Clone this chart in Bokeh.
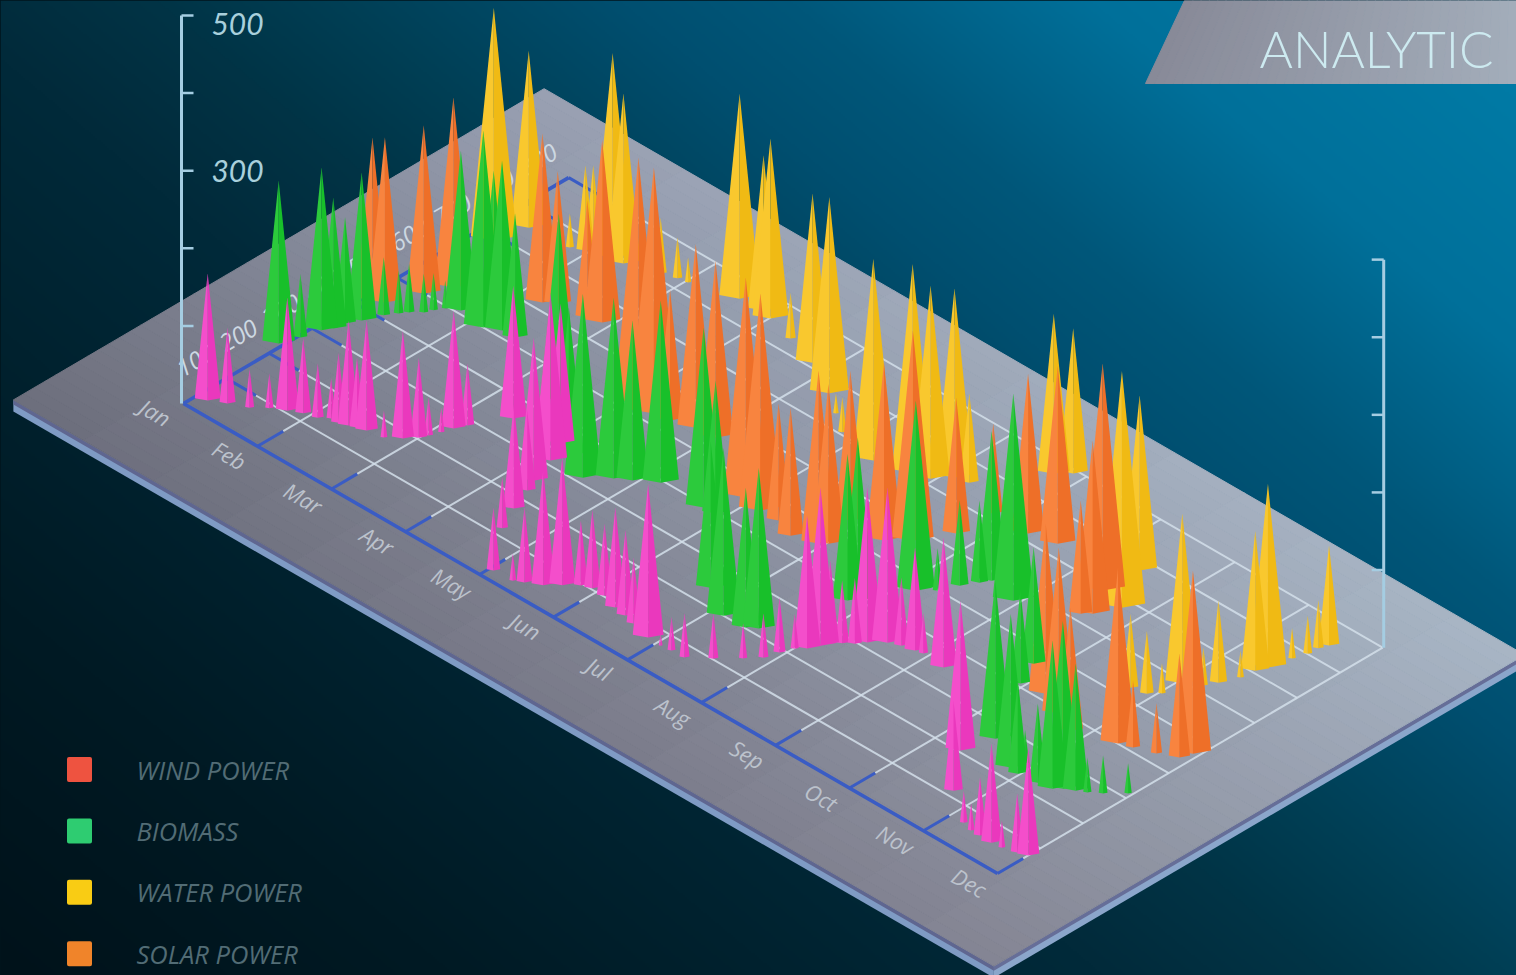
from bokeh.plotting import figure
from bokeh.models import Range1d
from bokeh.core.properties import value
from bokeh.embed import file_html
from bokeh.resources import INLINE
import numpy as np

# ---------- data ----------
MONTHS = ["Jan", "Feb", "Mar", "Apr", "May", "Jun", "Jul", "Aug", "Sep", "Oct", "Nov", "Dec"]
DEPTH_LABELS = ["100", "200", "300", "400", "500", "600", "700", "800", "900"]
VALUE_TICKS = [100, 200, 300, 400, 500]
VALUE_LABELS = ["300", "500"]
LEGEND = ["WIND POWER", "BIOMASS", "WATER POWER", "SOLAR POWER"]
LEGEND_COLORS = ["#ee5340", "#2ecc71", "#f9cc14", "#f0842a"]

pink_m = [.13,.30,.50,.64,.79,.93,1.08,1.18,1.28,1.38,1.46,1.56,1.76,1.90,2.00,2.04,2.09,2.13,2.19,2.42,
          3.28,3.16,3.03,3.47,3.35,4.05,3.62,4.30,4.40,4.56,4.69,4.82,4.93,5.10,5.31,5.47,5.62,5.88,6.06,6.19,
          6.36,6.57,6.77,6.90,6.95,7.01,7.09,7.15,7.19,7.27,7.36,7.43,7.57,7.70,7.85,7.94,8.24,9.32,9.74,10.18,
          10.32,10.44,10.60,10.73,10.89,11.00]
pink_d = [.34,.51,.68,.90,1.06,1.19,1.27,1.41,1.41,1.47,1.53,1.58,1.64,1.84,2.04,2.20,2.41,2.63,2.85,3.52,
          2.51,3.11,3.57,1.72,2.24,.24,1.19,.26,.36,.52,.74,.95,1.03,1.02,.91,.87,.80,.69,.67,.70,
          .71,1.02,1.37,1.62,1.91,2.16,2.31,2.52,2.68,2.82,2.96,3.13,3.36,3.46,3.52,3.56,3.51,2.04,1.15,.63,
          .56,.56,.55,.57,.65,.72]
pink_v = [164,98,50,45,146,97,70,52,90,135,90,142,35,139,103,49,32,152,80,171,
          184,215,180,135,103,81,66,35,97,148,165,84,101,93,129,110,85,198,15,43,
          57,58,45,57,71,45,171,204,107,81,85,200,200,88,133,52,168,193,116,41,
          35,75,128,35,76,139]

green_m = [-.05,.03,.09,.15,.17,.25,.34,.42,.48,.58,.62,.68,.81,1.16,1.23,1.32,1.49,2.52,3.23,3.58,
           3.80,3.95,4.17,4.75,4.90,5.73,6.14,6.43,6.53,6.81,6.88,7.16,7.31,7.40,7.50,7.56,7.94,8.81,8.95,9.42,
           9.86,9.98,9.91,10.22,10.39,10.46,10.57,10.67,10.79,10.96]
green_d = [2.31,2.68,3.07,3.24,3.48,3.73,4.09,4.30,4.44,4.61,4.77,4.94,5.08,5.00,5.12,5.16,5.17,4.41,3.42,3.14,
           3.48,3.66,3.94,3.94,3.96,2.41,2.00,2.02,2.15,3.74,3.86,4.73,4.98,5.34,5.63,5.81,5.66,4.63,4.08,2.68,
           2.28,2.24,2.53,2.29,2.34,2.46,2.57,2.67,2.83,3.12]
green_v = [210,82,210,169,137,191,75,55,63,50,48,36,206,254,202,219,160,241,191,237,
           233,206,235,232,171,189,216,180,207,189,210,245,55,110,106,193,267,150,120,204,
           198,120,43,102,191,216,164,45,49,39]

orange_m = [.09,.20,.36,.49,1.27,1.39,1.75,1.91,3.10,3.32,3.51,3.77,4.02,4.92,5.17,5.41,5.67,5.95,6.02,5.90,
            6.36,6.56,6.77,6.79,7.26,7.58,8.55,8.63,8.43,9.24,9.56,9.84,10.31,10.46,10.69,10.89,10.94]
orange_d = [4.26,4.36,4.99,5.46,6.19,6.34,6.41,6.48,5.27,5.25,5.30,5.45,5.48,4.63,4.54,4.55,4.38,4.55,4.66,5.38,
            5.37,5.70,6.35,7.18,7.18,7.32,6.18,6.32,6.90,4.17,3.92,3.71,4.01,4.10,4.25,4.44,4.67]
orange_v = [210,213,217,245,218,171,151,235,317,317,168,237,228,284,280,151,165,223,206,193,
            229,271,175,116,206,229,146,223,293,219,214,159,227,86,65,134,236]

yellow_m = [.22,.31,.96,.98,.82,1.23,1.37,1.74,1.91,2.03,2.57,2.87,3.01,3.38,3.81,4.28,4.56,4.82,5.36,5.77,
            5.96,6.11,6.27,6.74,6.87,8.76,8.45,8.57,9.75,9.93,10.03,10.05,10.22,10.29,10.38,10.40,10.45,10.51,10.56,10.57,10.61]
yellow_d = [6.87,7.53,7.73,7.88,7.61,7.90,7.91,8.14,8.24,8.28,8.55,8.59,8.51,8.34,8.11,7.69,7.36,7.06,6.85,7.06,
            7.15,7.45,7.52,8.68,8.91,6.78,7.73,7.26,5.27,5.34,5.52,5.96,6.16,6.39,6.75,7.06,7.27,7.73,8.01,8.24,8.42]
yellow_v = [300,228,110,106,44,264,219,72,53,32,264,200,232,59,218,253,26,45,260,269,
            249,244,115,206,187,305,226,31,95,81,39,219,49,106,35,180,237,39,49,62,129]

SERIES = [
    (yellow_m, yellow_d, yellow_v, "#f9c82e", "#f0ba14"),
    (orange_m, orange_d, orange_v, "#f8843f", "#ee6f28"),
    (green_m, green_d, green_v, "#2cca3c", "#18c02a"),
    (pink_m, pink_d, pink_v, "#f44ecb", "#ea38bd"),
]

# ---------- projection of (month, depth, value) on the picture ----------
W, H = 1516, 975
OX, OY = 183.0, 403.0
MX, MY = 74.0, 42.73
DX, DY = 42.8, -25.1
VPX = 0.776


def proj(m, d, v=0.0):
    sx = OX + np.asarray(m, dtype=float) * MX + np.asarray(d, dtype=float) * DX
    sy = OY + np.asarray(m, dtype=float) * MY + np.asarray(d, dtype=float) * DY - np.asarray(v, dtype=float) * VPX
    return sx, H - sy


def mix(a, b, t):
    ca = [int(a[i:i + 2], 16) for i in (1, 3, 5)]
    cb = [int(b[i:i + 2], 16) for i in (1, 3, 5)]
    return "#%02x%02x%02x" % tuple(int(round(p + (q - p) * t)) for p, q in zip(ca, cb))


p = figure(width=W, height=H, x_range=Range1d(0, W), y_range=Range1d(0, H),
           output_backend="svg", toolbar_location=None, min_border=0,
           background_fill_color="#00141c", border_fill_color="#00141c", outline_line_color=None)
p.axis.visible = False
p.grid.visible = False

# ---------- background ----------
gh, gw = 488, 758
yy, xx = np.mgrid[0:gh, 0:gw]
sx_bg = (xx + .5) * W / gw
sy_bg = H - (yy + .5) * H / gh
r = sx_bg * .64 - sy_bg * .77
stops = [-750, -460, -45, 100, 216, 396, 505, 697, 893, 1000]
cols = np.array([[0, 18, 26], [0, 26, 36], [1, 42, 58], [1, 52, 70], [0, 63, 85], [0, 79, 112],
                 [0, 87, 122], [0, 112, 154], [0, 122, 165], [0, 126, 170]])
img = np.zeros((gh, gw, 4), dtype=np.uint8)
for c in range(3):
    img[:, :, c] = np.interp(r, stops, cols[:, c])
img[:, :, 3] = 255
rgba = img.view(dtype=np.uint32).reshape(gh, gw)
p.image_rgba(image=[rgba], x=0, y=0, dw=W, dh=H)

# ---------- banner ----------
bx, by, bc = [], [], []
n = 40
for i in range(n):
    t0, t1 = i / n, (i + 1) / n
    tb = lambda t: 1145 + (1516 - 1145) * t
    tt = lambda t: 1184 + (1516 - 1184) * t
    bx.append([tt(t0), tt(t1), tb(t1), tb(t0)])
    by.append([H, H, H - 83, H - 83])
    bc.append(mix("#888a98", "#a3adba", (i + .5) / n))
p.patches(bx, by, fill_color=bc, line_color=bc, line_width=1)
p.text(x=[1259], y=[H - 48], text=["ANALYTIC"], text_font=value("Lato Light"), text_font_size="51px",
       text_color="#cdeaf0", text_align="left", text_baseline="middle")

# ---------- platform ----------
MMIN, MMAX, DMIN, DMAX = -1.2, 12.05, -1.9, 10.5
lx, ly = proj([MMIN, MMAX, MMAX, MMIN], [DMIN, DMIN, DMIN, DMIN], [0, 0, -15, -15])
rx, ry = proj([MMAX, MMAX, MMAX, MMAX], [DMIN, DMAX, DMAX, DMIN], [0, 0, -15, -15])
p.patch(lx, ly, fill_color="#7f9bc4", line_color=None)
p.patch(rx, ry, fill_color="#8ba6cb", line_color=None)
lx, ly = proj([MMIN, MMAX, MMAX, MMIN], [DMIN, DMIN, DMIN, DMIN], [0, 0, -6, -6])
rx, ry = proj([MMAX, MMAX, MMAX, MMAX], [DMIN, DMAX, DMAX, DMIN], [0, 0, -6, -6])
p.patch(lx, ly, fill_color="#5f6690", line_color=None)
p.patch(rx, ry, fill_color="#666e98", line_color=None)

qx, qy, qc = [], [], []
NM, ND = 14, 50
for i in range(NM):
    for j in range(ND):
        m0 = MMIN + (MMAX - MMIN) * i / NM
        m1 = MMIN + (MMAX - MMIN) * (i + 1) / NM
        d0 = DMIN + (DMAX - DMIN) * j / ND
        d1 = DMIN + (DMAX - DMIN) * (j + 1) / ND
        sx, sy = proj([m0, m1, m1, m0], [d0, d0, d1, d1])
        qx.append(list(sx))
        qy.append(list(sy))
        tm, td = (i + .5) / NM, (j + .5) / ND
        qc.append(mix(mix("#6c6d7b", "#858694", tm), mix("#98a0b2", "#a9b6c6", tm), td))
p.patches(qx, qy, fill_color=qc, line_color=qc, line_width=1)

# ---------- floor grid ----------
GRID = "#d3dfea"
BLUE = "#3a5cc4"
for m in range(1, 12):
    sx, sy = proj([m, m], [0.6, 9])
    p.line(sx, sy, line_color=GRID, line_width=2, line_alpha=.85)
    sx, sy = proj([m, m], [0, 0.6])
    p.line(sx, sy, line_color=BLUE, line_width=3)
for d in range(1, 10):
    sx, sy = proj([0.4, 11], [d, d])
    p.line(sx, sy, line_color=GRID, line_width=2, line_alpha=.85)
    sx, sy = proj([0, 0.4], [d, d])
    p.line(sx, sy, line_color=BLUE, line_width=3)
sx, sy = proj([0, 11], [0, 0])
p.line(sx, sy, line_color=BLUE, line_width=3.6)
sx, sy = proj([0, 0], [0, 9])
p.line(sx, sy, line_color=BLUE, line_width=3.6)

# month and depth labels on the floor
sx, sy = proj(np.arange(12) - .09, -.5 * np.ones(12))
p.text(x=list(sx), y=list(sy), text=MONTHS, angle=-.52, text_font=value("Open Sans"), text_font_style="italic",
       text_font_size="22px", text_color="#bcc2cc", text_align="center", text_baseline="middle")
nd = len(DEPTH_LABELS)
sx, sy = proj(-.415 * np.ones(nd), np.arange(1, nd + 1))
p.text(x=list(sx), y=list(sy), text=DEPTH_LABELS, angle=.52, text_font=value("Open Sans"), text_font_style="italic",
       text_font_size="24px", text_color="#cdd8e2", text_align="center", text_baseline="middle")

# ---------- value axes ----------
AXC = "#a5cde2"
for (m, d, sgn) in [(0, 0, 1), (11, 9, -1)]:
    ax0, ay0 = proj([m, m], [d, d], [0, 500])
    off = -2 if sgn > 0 else 1
    p.line([ax0[0] + off, ax0[1] + off], ay0, line_color=AXC, line_width=3)
    for v in VALUE_TICKS:
        tx, ty = proj(m, d, v)
        p.line([float(tx) + off, float(tx) + off + sgn * 12], [float(ty), float(ty)], line_color=AXC, line_width=2.5)
lx_, ly_ = proj(np.zeros(2), np.zeros(2), [int(s) for s in VALUE_LABELS])
nudge = np.array([0, -8])
p.text(x=list(lx_ + 54), y=list(ly_ + nudge), text=VALUE_LABELS, text_font=value("Lato"), text_font_style="italic",
       text_font_size="30px", text_color="#a9d0dc", text_align="center", text_baseline="middle")

# ---------- spikes ----------
for sm, sd, sv, cl, cr in SERIES:
    sm, sd, sv = np.array(sm, float), np.array(sd, float), np.array(sv, float)
    bsx, bsy = proj(sm, sd)
    tsx, tsy = proj(sm, sd, sv)
    order = np.argsort(-bsy)
    for i in order:
        h = tsy[i] - bsy[i]
        w = h * .095 + .8
        lift = w * .18
        xs = [bsx[i], bsx[i] - w, bsx[i]]
        ys = [tsy[i], bsy[i] + lift, bsy[i]]
        p.patch(xs, ys, fill_color=cl, line_color=None)
        xs = [bsx[i], bsx[i], bsx[i] + w]
        ys = [tsy[i], bsy[i], bsy[i] + lift]
        p.patch(xs, ys, fill_color=cr, line_color=None)

# ---------- legend ----------
for i, (lab, col) in enumerate(zip(LEGEND, LEGEND_COLORS)):
    yl = H - (769 + 61.4 * i)
    p.rect(x=[79], y=[yl], width=21, height=21, fill_color=col, line_color=col, line_width=4, line_join="round")
    p.text(x=[136], y=[yl], text=[lab], text_font=value("Open Sans"), text_font_style="italic",
           text_font_size="25.5px", text_color="#526c75", text_align="left", text_baseline="middle")

html = file_html(p, INLINE)
html = html.replace("<head>", "<head><style>html,body{margin:0;padding:0;background:#00141c;overflow:hidden}</style>", 1)
open("out.html", "w").write(html)
